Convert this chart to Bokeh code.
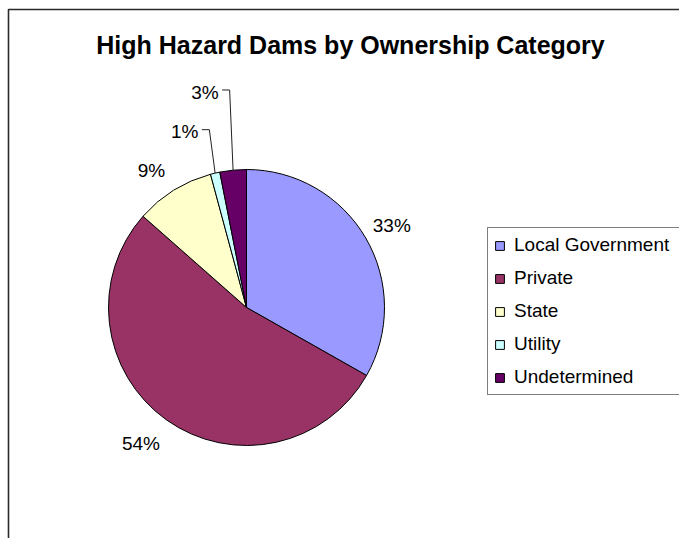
import math
from bokeh.plotting import figure
from bokeh.models import ColumnDataSource, Range1d, Label, Legend, LegendItem
from bokeh.embed import file_html
from bokeh.resources import INLINE
from bokeh.core.properties import value

# ---------------- data ----------------
title_text = "High Hazard Dams by Ownership Category"
categories = ["Local Government", "Private", "State", "Utility", "Undetermined"]
shares = [33.2, 53.3, 9.3, 1.1, 3.1]          # percent of high hazard dams
pct_labels = ["33%", "54%", "9%", "1%", "3%"]
colors = ["#9999FF", "#993366", "#FFFFCC", "#CCFFFF", "#660066"]

# ---------------- layout ----------------
W, H = 679, 538
CX, CY = 246, H - 307      # pie centre (data units == pixels)
R = 138
label_r = [167, 172, 167, 182, 217]          # label distance from centre
label_shift = [0.7, 2.4, -2.8, -2.2, -1.8]   # angular nudge (deg, clockwise)
SMALL = 5                                    # slices below this get leader lines
FONT = "Liberation Sans"

total = sum(shares)
starts, ends, mids = [], [], []
acc = 0.0
for s in shares:
    starts.append(acc / total)
    acc += s
    ends.append(acc / total)
    mids.append((starts[-1] + ends[-1]) / 2)

src = ColumnDataSource(dict(
    category=categories,
    color=colors,
    start=[math.pi / 2 - 2 * math.pi * f for f in starts],
    end=[math.pi / 2 - 2 * math.pi * f for f in ends],
))

p = figure(width=W, height=H, x_range=Range1d(0, W), y_range=Range1d(0, H),
           output_backend="svg", toolbar_location=None, min_border=0,
           x_axis_type=None, y_axis_type=None)
p.outline_line_color = None
p.background_fill_color = "white"
p.border_fill_color = "white"
p.xgrid.visible = False
p.ygrid.visible = False

# chart area border (runs past the window on the right and bottom)
p.line(x=[8, 8, W + 30], y=[-30, H - 9, H - 9], line_color="#2a2a2a", line_width=1.6)

wedges = p.wedge(x=CX, y=CY, radius=R, start_angle="start", end_angle="end",
                 direction="clock", fill_color="color", line_color="black",
                 line_width=1, source=src)

# percentage labels
big = dict(x=[], y=[], t=[])
small = dict(x=[], y=[], t=[])
lead_x, lead_y = [], []
for i, m in enumerate(mids):
    a = math.radians(m * 360 + label_shift[i])
    lx = CX + label_r[i] * math.sin(a)
    ly = CY + label_r[i] * math.cos(a)
    if shares[i] >= SMALL:
        big["x"].append(lx); big["y"].append(ly); big["t"].append(pct_labels[i])
    else:
        small["x"].append(lx); small["y"].append(ly); small["t"].append(pct_labels[i])
        am = math.radians(m * 360)
        ex = CX + R * math.sin(am)
        ey = CY + R * math.cos(am)
        sx, sy = lx + 3.5, ly + 2.3
        lead_x.append([sx, sx + 7.5, ex])
        lead_y.append([sy, sy, ey])

p.text(x="x", y="y", text="t", source=ColumnDataSource(big),
       text_align="center", text_baseline="middle",
       text_font=value(FONT), text_font_size="19px", text_color="black")
p.text(x="x", y="y", text="t", source=ColumnDataSource(small),
       text_align="right", text_baseline="middle",
       text_font=value(FONT), text_font_size="19px", text_color="black")
p.multi_line(xs=lead_x, ys=lead_y, line_color="#222222", line_width=1)

# title
p.add_layout(Label(x=350, y=H - 44, text=title_text, text_align="center",
                   text_baseline="middle", text_font=FONT, text_font_style="bold",
                   text_font_size="25px", text_color="black"))

# legend (its right edge runs past the window, as in the original)
items = [LegendItem(label=c, renderers=[wedges], index=i) for i, c in enumerate(categories)]
legend = Legend(items=items, location=(487, 143), padding=6, spacing=11,
                label_height=22, label_width=185, glyph_height=11, glyph_width=11,
                label_standoff=9,
                label_text_font=FONT, label_text_font_size="19px",
                label_text_color="black", label_text_baseline="middle",
                border_line_color="black", border_line_width=1,
                background_fill_color="white", margin=0)
p.add_layout(legend)

open("out.html", "w").write(file_html(p, INLINE))
